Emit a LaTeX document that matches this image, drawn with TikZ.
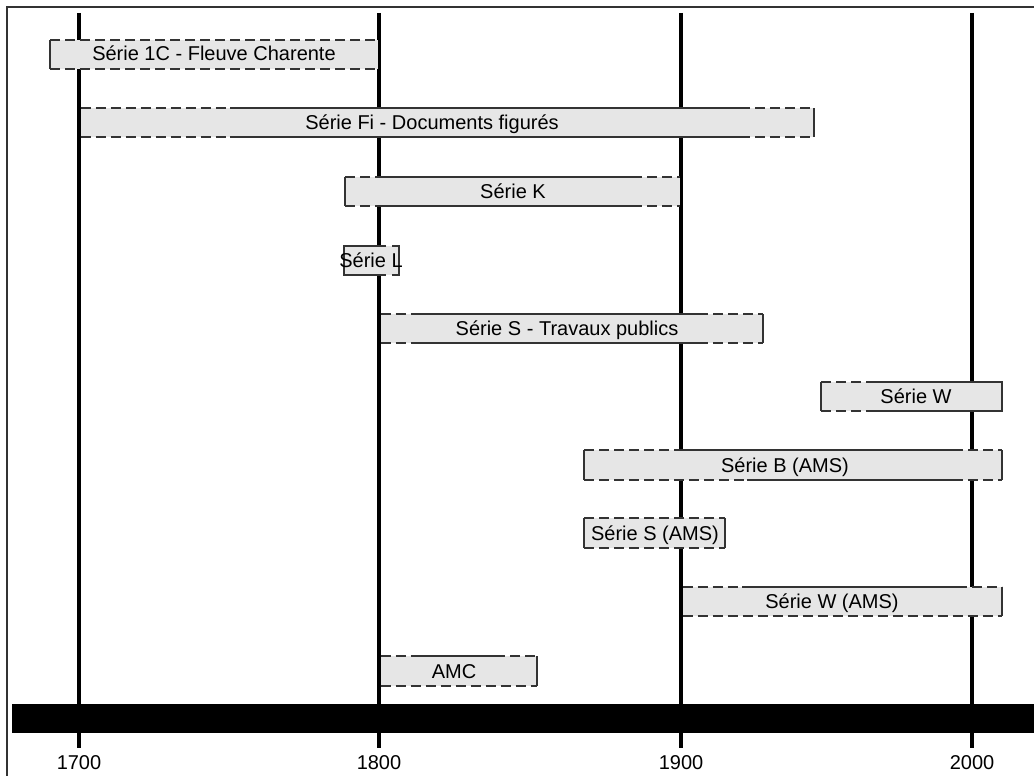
\documentclass[tikz,border=0pt]{standalone}
\usepackage{fontspec}
\setmainfont{Liberation Sans}
\definecolor{barbg}{HTML}{E6E6E6}
\definecolor{edgec}{HTML}{333333}
\begin{document}
\begin{tikzpicture}[x=1pt,y=-1pt,
  barfill/.style={fill=barbg},
  edge/.style={draw=edgec, line width=1.2pt},
  dashedge/.style={edge, dash pattern=on 10pt off 5pt},
  yearline/.style={line width=3.2pt, draw=black},
  frameline/.style={draw=edgec, line width=1.5pt},
  lbl/.style={font=\fontsize{20}{24}\selectfont, inner sep=0pt, text=black, anchor=base}]
\useasboundingbox (0,0) rectangle (1034,776);
\fill[white] (0,0) rectangle (1034,776);
\draw[frameline] (7,776) -- (7,7) -- (1034,7);
% year lines and labels
\foreach \x/\yr in {79/1700,379/1800,681/1900,972/2000}{
  \coordinate (top\yr) at (\x,13);
  \coordinate (bot\yr) at (\x,748);
  \draw[yearline] (top\yr) -- (bot\yr);
  \node[lbl] (y\yr) at (\x,769) {\yr};
}
\fill[black] (12,704) rectangle (1034,733);
% bar 1
\fill[barfill] (50,40) rectangle (377.5,69);
\draw[edge] (50,40) -- (50,69);
\draw[dashedge] (50,40) -- (377.5,40);
\draw[dashedge] (50,69) -- (377.5,69);
\node[lbl] (t1) at (214,61) {Série 1C - Fleuve Charente};
% bar 2
\fill[barfill] (80.5,108) rectangle (814,137);
\draw[dashedge] (80.5,108) -- (230,108); \draw[edge] (230,108) -- (740,108); \draw[dashedge] (740,108) -- (814,108);
\draw[dashedge] (80.5,137) -- (230,137); \draw[edge] (230,137) -- (740,137); \draw[dashedge] (740,137) -- (814,137);
\draw[edge] (814,108) -- (814,137);
\node[lbl] (t2) at (432,129) {Série Fi - Documents figurés};
% bar 3
\fill[barfill] (345,177) rectangle (679.5,206);
\draw[edge] (345,177) -- (345,206);
\draw[dashedge] (345,177) -- (380,177); \draw[edge] (380,177) -- (632,177); \draw[dashedge] (632,177) -- (679.5,177);
\draw[dashedge] (345,206) -- (380,206); \draw[edge] (380,206) -- (632,206); \draw[dashedge] (632,206) -- (679.5,206);
\node[lbl] (t3) at (513,198) {Série K};
% bar 4
\fill[barfill] (344,246) rectangle (399,275);
\draw[edge] (386,246) -- (344,246) -- (344,275) -- (386,275);
\draw[edge] (392,246) -- (399,246) -- (399,275) -- (392,275);
\node[lbl] (t4) at (371,267) {Série L};
% bar 5
\fill[barfill] (380.5,314) rectangle (763,343);
\draw[dashedge] (380.5,314) -- (415,314); \draw[edge] (415,314) -- (698,314); \draw[dashedge] (698,314) -- (763,314);
\draw[dashedge] (380.5,343) -- (415,343); \draw[edge] (415,343) -- (698,343); \draw[dashedge] (698,343) -- (763,343);
\draw[edge] (763,314) -- (763,343);
\node[lbl] (t5) at (567,335) {Série S - Travaux publics};
% bar 6
\fill[barfill] (821,382) rectangle (1002,411);
\draw[edge] (821,382) -- (821,411);
\draw[dashedge] (821,382) -- (875,382); \draw[edge] (875,382) -- (1002,382) -- (1002,411) -- (875,411);
\draw[dashedge] (821,411) -- (875,411);
\node[lbl] (t6) at (916,403) {Série W};
% bar 7
\fill[barfill] (584,450) rectangle (1002,480);
\draw[edge] (584,450) -- (584,480);
\draw[dashedge] (584,450) -- (680,450); \draw[edge] (680,450) -- (953,450); \draw[dashedge] (953,450) -- (1002,450);
\draw[dashedge] (584,480) -- (747,480); \draw[edge] (747,480) -- (953,480); \draw[dashedge] (953,480) -- (1002,480);
\draw[edge] (1002,450) -- (1002,480);
\node[lbl] (t7) at (785,472) {Série B (AMS)};
% bar 8
\fill[barfill] (584,518) rectangle (725,548);
\draw[edge] (584,518) -- (584,548);
\draw[dashedge] (584,518) -- (725,518);
\draw[dashedge] (584,548) -- (725,548);
\draw[edge] (725,518) -- (725,548);
\node[lbl] (t8) at (655,540) {Série S (AMS)};
% bar 9
\fill[barfill] (682.5,587) rectangle (1002,616);
\draw[dashedge] (682.5,587) -- (742,587); \draw[edge] (742,587) -- (957,587); \draw[dashedge] (957,587) -- (1002,587);
\draw[dashedge] (682.5,616) -- (1002,616);
\draw[edge] (1002,587) -- (1002,616);
\node[lbl] (t9) at (832,608) {Série W (AMS)};
% bar 10
\fill[barfill] (380.5,656) rectangle (537,686);
\draw[dashedge] (380.5,656) -- (413,656); \draw[edge] (413,656) -- (495,656); \draw[dashedge] (495,656) -- (537,656);
\draw[dashedge] (380.5,686) -- (537,686);
\draw[edge] (537,656) -- (537,686);
\node[lbl] (t10) at (454,678) {AMC};
\end{tikzpicture}
\end{document}
